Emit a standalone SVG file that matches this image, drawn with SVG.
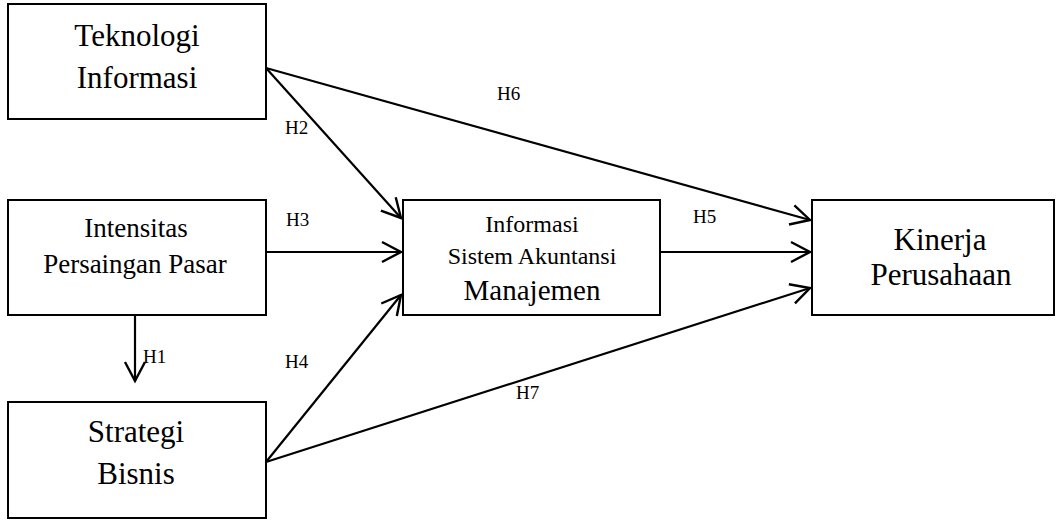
<svg xmlns="http://www.w3.org/2000/svg" width="1057" height="521" viewBox="0 0 1057 521">
<style>
.box{fill:#fff;stroke:#000;stroke-width:2}
.t{font-family:"Liberation Serif","Times New Roman",serif;fill:#000;text-anchor:middle}
.lbl{font-family:"Liberation Serif","Times New Roman",serif;fill:#000;font-size:19px}
.ln{stroke:#000;stroke-width:2.2;fill:none;marker-end:url(#arr)}
</style>
<defs>
<marker id="arr" markerUnits="userSpaceOnUse" orient="auto" markerWidth="40" markerHeight="40" refX="0" refY="0" viewBox="-30 -20 40 40" overflow="visible">
<path d="M-19,-10 L0,0 L-19,10" fill="none" stroke="#000" stroke-width="2.4"/>
</marker>
</defs>
<g id="connectors">
<line class="ln" x1="266" y1="68" x2="810" y2="220"/>
<line class="ln" x1="266" y1="68" x2="401" y2="218"/>
<line class="ln" x1="266" y1="252" x2="401" y2="252"/>
<line class="ln" x1="266" y1="462" x2="401" y2="295"/>
<line class="ln" x1="266" y1="462" x2="810" y2="288"/>
<line class="ln" x1="660" y1="252" x2="810" y2="252"/>
<line class="ln" x1="135" y1="315" x2="135" y2="381"/>
<text class="lbl" x="143" y="363">H1</text>
<text class="lbl" x="285" y="134">H2</text>
<text class="lbl" x="286" y="226">H3</text>
<text class="lbl" x="285" y="368">H4</text>
<text class="lbl" x="693" y="223">H5</text>
<text class="lbl" x="497" y="100">H6</text>
<text class="lbl" x="516" y="399">H7</text>
</g>
<g id="teknologi-informasi">
<rect class="box" x="8" y="4" width="258" height="115"/>
<text class="t" x="137" y="46" font-size="31">Teknologi</text>
<text class="t" x="137" y="88" font-size="31">Informasi</text>
</g>
<g id="intensitas-persaingan-pasar">
<rect class="box" x="8" y="200" width="258" height="115"/>
<text class="t" x="136" y="237" font-size="27">Intensitas</text>
<text class="t" x="135" y="273" font-size="27">Persaingan Pasar</text>
</g>
<g id="strategi-bisnis">
<rect class="box" x="8" y="402" width="258" height="116"/>
<text class="t" x="136" y="442" font-size="31">Strategi</text>
<text class="t" x="136" y="484" font-size="31">Bisnis</text>
</g>
<g id="informasi-sam">
<rect class="box" x="403" y="200" width="257" height="115"/>
<text class="t" x="532" y="232" font-size="24">Informasi</text>
<text class="t" x="532" y="264" font-size="24">Sistem Akuntansi</text>
<text class="t" x="532" y="300" font-size="29">Manajemen</text>
</g>
<g id="kinerja-perusahaan">
<rect class="box" x="812" y="200" width="242" height="115"/>
<text class="t" x="940" y="250" font-size="31">Kinerja</text>
<text class="t" x="941" y="285" font-size="31">Perusahaan</text>
</g>
</svg>
